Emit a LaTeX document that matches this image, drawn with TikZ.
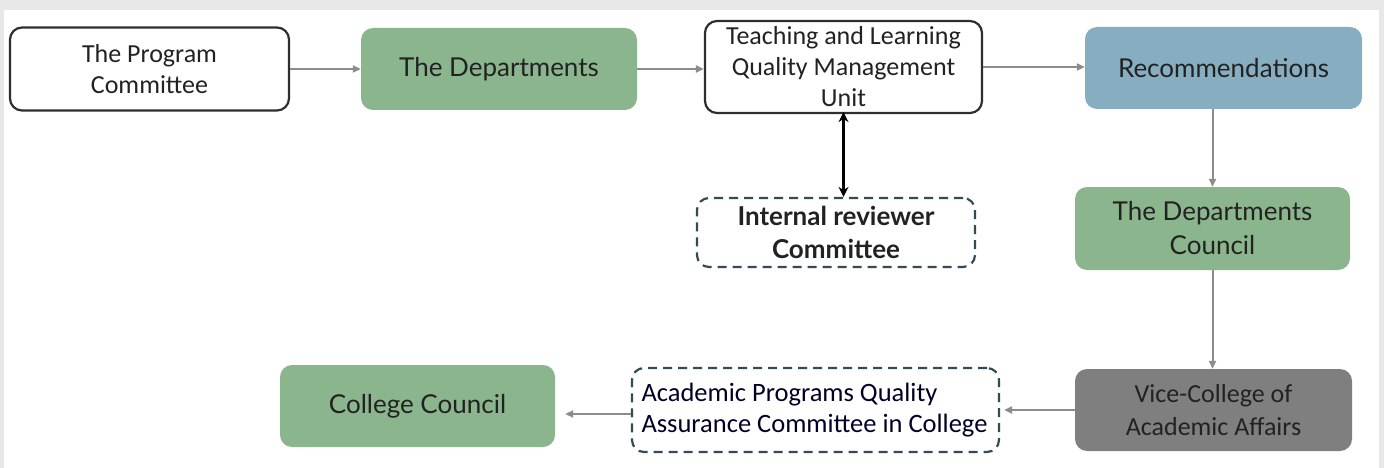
\documentclass[tikz,border=0pt]{standalone}
\usepackage{fontspec}
\setmainfont{Carlito}
\newfontfamily\aptos{Lato}
\usetikzlibrary{arrows.meta}
\definecolor{bggrey}{HTML}{E9E8E8}
\definecolor{boxgreen}{HTML}{8AB58D}
\definecolor{boxblue}{HTML}{86AEC0}
\definecolor{boxgrey}{HTML}{7F7F7F}
\definecolor{edge}{HTML}{2E2E2E}
\definecolor{dashc}{HTML}{344A55}
\definecolor{arrowc}{HTML}{8C8C8C}
\definecolor{txt}{HTML}{222222}
\tikzset{
  base/.style={rounded corners=12pt, align=center, inner sep=0pt, text=txt},
  whitebox/.style={base, draw=edge, line width=2.2pt, fill=white, font=\fontsize{26}{31}\selectfont},
  greenbox/.style={base, fill=boxgreen, font=\aptos\fontsize{26}{34}\selectfont},
  bluebox/.style={base, fill=boxblue, font=\aptos\fontsize{26}{34}\selectfont},
  greybox/.style={base, fill=boxgrey, font=\fontsize{26}{33}\selectfont},
  dashbox/.style={base, draw=dashc, line width=2.2pt, dash pattern=on 9pt off 6pt, fill=white},
  flow/.style={draw=arrowc, line width=2pt, -{Triangle[length=8pt,width=7pt]}},
  both/.style={draw=black, line width=2.2pt, {Stealth[length=10pt,width=10pt]}-{Stealth[length=10pt,width=10pt]}}
}
\begin{document}
\begin{tikzpicture}[x=1pt,y=-1pt]
\fill[bggrey] (0,0) rectangle (1384,468);
\fill[white] (4,10) rectangle (1379,468);
\useasboundingbox (0,0) rectangle (1384,468);

\node[whitebox, minimum width=279pt, minimum height=83pt] (pc) at (149.5,69) {The Program\\Committee};
\node[greenbox, minimum width=276pt, minimum height=82pt] (dep) at (499,69) {The Departments};
\node[whitebox, minimum width=277pt, minimum height=92pt] (tl) at (843.5,67) {Teaching and Learning\\Quality Management\\Unit};
\node[bluebox, minimum width=277pt, minimum height=82pt] (rec) at (1223.5,68) {Recommendations};
\node[dashbox, minimum width=278pt, minimum height=69pt, font=\aptos\bfseries\fontsize{26}{33}\selectfont] (irc) at (836,232.5) {Internal reviewer\\Committee};
\node[greenbox, minimum width=275pt, minimum height=83pt] (dc) at (1212.5,228.5) {The Departments\\Council};
\node[greybox, minimum width=277pt, minimum height=82pt] (vc) at (1213.5,410) {Vice-College of\\Academic Affairs};
\node[dashbox, minimum width=367pt, minimum height=84pt, align=left, font=\fontsize{26.5}{31}\selectfont, text=black!85!blue] (apq) at (815.5,410) {\hspace*{-2pt}Academic Programs Quality\\\hspace*{-2pt}Assurance Committee in College};
\node[greenbox, minimum width=275pt, minimum height=82pt] (cc) at (417.5,406) {College Council};

\draw[flow] (pc.east) -- (pc.east -| dep.west);
\draw[flow] (dep.east) -- (dep.east -| tl.west);
\draw[flow] (tl.east) -- (tl.east -| rec.west);
\draw[both] (tl.south) ++(0,2pt) coordinate (tls) -- (tls |- irc.north);
\draw[flow] (rec.south -| dc.north) -- (dc.north);
\draw[flow] (dc.south) -- (dc.south |- vc.north);
\draw[flow] (vc.west) -- ([xshift=4pt]vc.west -| apq.east);
\draw[flow] ([yshift=-4pt]apq.west) -- ([xshift=10pt,yshift=-4pt]apq.west -| cc.east);
\end{tikzpicture}
\end{document}
